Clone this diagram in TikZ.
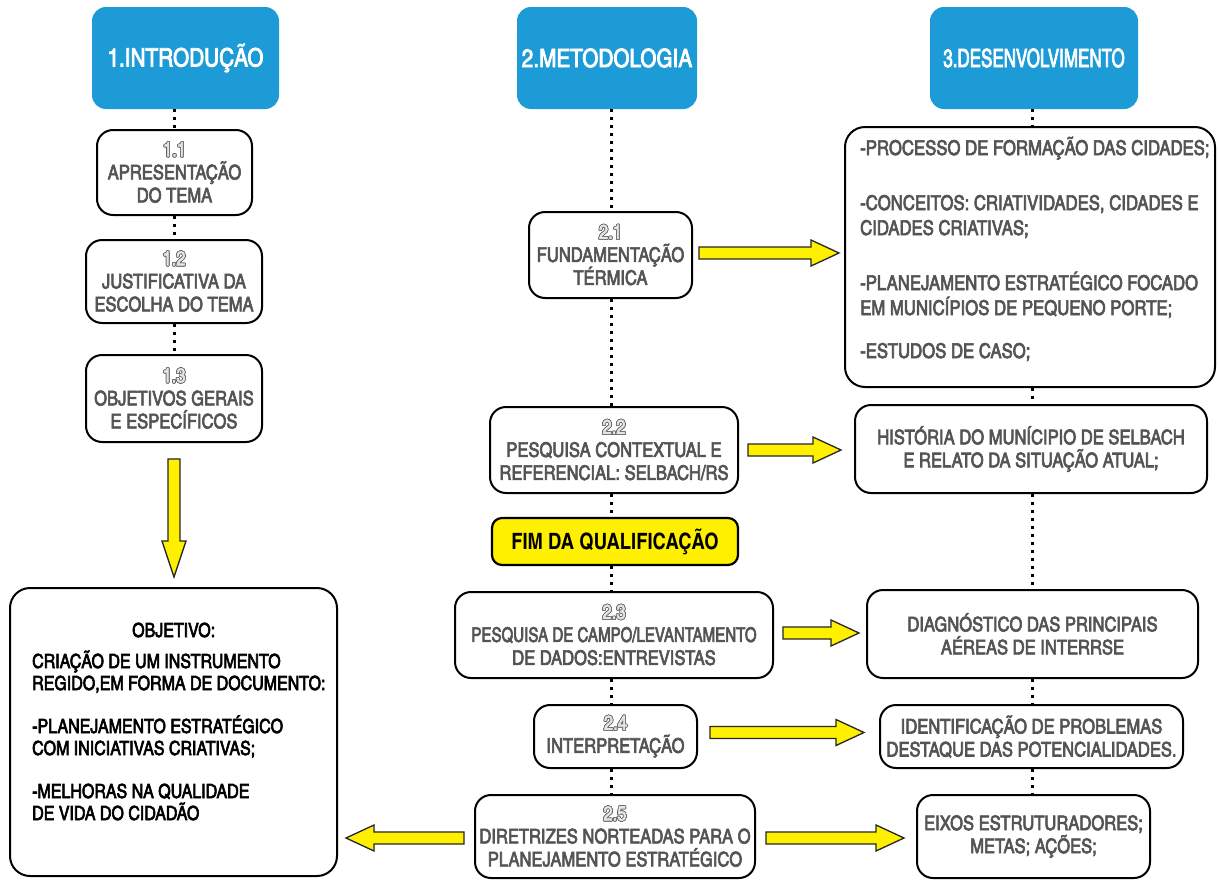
\documentclass[tikz,border=0pt]{standalone}
\usepackage{fontspec}
\setmainfont{texgyreheroscn}[Extension=.otf,UprightFont=*-regular,BoldFont=*-bold,UprightFeatures={FakeBold=3}]
\usepackage{graphicx}
\usepackage{contour}
\contourlength{0.7pt}
\usetikzlibrary{calc}
\definecolor{hblue}{RGB}{29,155,215}
\definecolor{txtgray}{RGB}{84,84,84}
\definecolor{numgray}{RGB}{100,100,100}
\definecolor{yel}{RGB}{255,240,0}
\newcommand\nm[1]{\contour{numgray}{\textcolor{white!90!black}{#1}}}
% horizontal fat arrow: #1 start point, #2 tip point (only x of #2 used)
\newcommand\harrow[2]{%
  \draw[yarrow] let \p1=#1, \p2=#2, \n1={sign(\x2-\x1)} in
    (\x1,{\y1+6pt}) -- ({\x2-\n1*28pt},{\y1+6pt}) -- ({\x2-\n1*28pt},{\y1+13pt})
    -- (\x2,\y1) -- ({\x2-\n1*28pt},{\y1-13pt}) -- ({\x2-\n1*28pt},{\y1-6pt})
    -- (\x1,{\y1-6pt}) -- cycle;}
% vertical fat arrow: #1 start point, #2 tip point (only y of #2 used)
\newcommand\varrow[2]{%
  \draw[yarrow] let \p1=#1, \p2=#2, \n1={sign(\y2-\y1)} in
    ({\x1-6pt},\y1) -- ({\x1-6pt},{\y2-\n1*36pt}) -- ({\x1-12pt},{\y2-\n1*36pt})
    -- (\x1,\y2) -- ({\x1+12pt},{\y2-\n1*36pt}) -- ({\x1+6pt},{\y2-\n1*36pt})
    -- ({\x1+6pt},\y1) -- cycle;}
\tikzset{
  hbox/.style={fill=hblue, rounded corners=14pt, text=white, inner sep=0pt,
    font=\fontsize{25.3}{29}\selectfont},
  gbox/.style={draw=black, line width=2pt, rounded corners=16pt, fill=white,
    text=txtgray, align=center, inner sep=0pt, font=\fontsize{20.2}{23}\selectfont},
  fimbox/.style={draw=black, line width=2.2pt, rounded corners=10pt, fill=yel,
    text=black, inner sep=0pt, font=\fontsize{22.5}{25}\selectfont\bfseries},
  dotline/.style={line width=3pt, dash pattern=on 3pt off 5pt, black},
  yarrow/.style={fill=yel, draw=black!85, line width=1.3pt, line join=miter},
}
\begin{document}
\begin{tikzpicture}[x=1pt,y=-1pt]
\useasboundingbox[fill=white] (0,0) rectangle (1218,881);

% headers
\node[hbox, minimum width=187, minimum height=102] (h1) at (185.5,58) {1.INTRODUÇÃO};
\node[hbox, minimum width=180, minimum height=102] (h2) at (607,58) {2.METODOLOGIA};
\node[hbox, minimum width=208, minimum height=102] (h3) at (1034,58) {\scalebox{0.82}[1]{3.DESENVOLVIMENTO}};

% column 1
\node[gbox, minimum width=155, minimum height=85] (n11) at (174.5,172.5) {\nm{1.1}\\APRESENTAÇÃO\\DO TEMA};
\node[gbox, minimum width=176, minimum height=83] (n12) at (174,281.5) {\nm{1.2}\\JUSTIFICATIVA DA\\ESCOLHA DO TEMA};
\node[gbox, minimum width=176, minimum height=87] (n13) at (174,398.5) {\nm{1.3}\\OBJETIVOS GERAIS\\E ESPECÍFICOS};
\node[gbox, minimum width=327, minimum height=288, rounded corners=20pt] (obj) at (173.5,732) {};
\node[anchor=base west, align=left, inner sep=0pt, text=black,
  font=\fontsize{19.5}{22}\selectfont] (objtxt) at (32,820)
  {\hspace*{100pt}OBJETIVO:\\[9pt]
   CRIAÇÃO DE UM INSTRUMENTO\\
   REGIDO,EM FORMA DE DOCUMENTO:\\[21pt]
   -PLANEJAMENTO ESTRATÉGICO\\
   COM INICIATIVAS CRIATIVAS;\\[21pt]
   -MELHORAS NA QUALIDADE\\
   DE VIDA DO CIDADÃO};

% column 2
\node[gbox, minimum width=163, minimum height=86] (n21) at (610.5,255) {\nm{2.1}\\FUNDAMENTAÇÃO\\TÉRMICA};
\node[gbox, minimum width=248, minimum height=86] (n22) at (614,450) {\nm{2.2}\\PESQUISA CONTEXTUAL E\\REFERENCIAL: SELBACH/RS};
\node[fimbox, minimum width=246, minimum height=47] (fim) at (615,541.5) {FIM DA QUALIFICAÇÃO};
\node[gbox, minimum width=318, minimum height=86] (n23) at (614,635) {\nm{2.3}\\\scalebox{0.91}[1]{PESQUISA DE CAMPO/LEVANTAMENTO}\\DE DADOS:ENTREVISTAS};
\node[gbox, minimum width=163, minimum height=63] (n24) at (615.5,736.5) {\nm{2.4}\\INTERPRETAÇÃO};
\node[gbox, minimum width=280, minimum height=83] (n25) at (615,836.5) {\nm{2.5}\\DIRETRIZES NORTEADAS PARA O\\PLANEJAMENTO ESTRATÉGICO};

% column 3
\node[gbox, minimum width=370, minimum height=260, rounded corners=20pt] (r1) at (1030,257) {};
\node[anchor=base west, align=left, inner sep=0pt, text=txtgray,
  font=\fontsize{20.4}{25}\selectfont] (r1txt) at (860,358)
  {-PROCESSO DE FORMAÇÃO DAS CIDADES;\\[30pt]
   -CONCEITOS: CRIATIVIDADES, CIDADES E\\
   CIDADES CRIATIVAS;\\[30pt]
   -PLANEJAMENTO ESTRATÉGICO FOCADO\\
   EM MUNICÍPIOS DE PEQUENO PORTE;\\[18pt]
   -ESTUDOS DE CASO;};
\node[gbox, minimum width=352, minimum height=88] (r2) at (1031,449) {HISTÓRIA DO MUNÍCIPIO DE SELBACH\\E RELATO DA SITUAÇÃO ATUAL;};
\node[gbox, minimum width=331, minimum height=88] (r3) at (1032.5,634) {DIAGNÓSTICO DAS PRINCIPAIS\\AÉREAS DE INTERRSE};
\node[gbox, minimum width=303, minimum height=63] (r4) at (1031.5,736.5) {IDENTIFICAÇÃO DE PROBLEMAS\\DESTAQUE DAS POTENCIALIDADES.};
\node[gbox, minimum width=233, minimum height=83] (r5) at (1033.5,836.5) {EIXOS ESTRUTURADORES;\\METAS; AÇÕES;};

% dotted connectors
\coordinate (lc) at (174,0);
\coordinate (mc) at (611,0);
\coordinate (rc) at (1032,0);
\draw[dotline] (lc |- h1.south) -- (lc |- n11.north);
\draw[dotline] (lc |- n11.south) -- (lc |- n12.north);
\draw[dotline] (lc |- n12.south) -- (lc |- n13.north);
\draw[dotline] (mc |- h2.south) -- (mc |- n21.north);
\draw[dotline] (mc |- n21.south) -- (mc |- n22.north);
\draw[dotline] (mc |- n22.south) -- (mc |- fim.north);
\draw[dotline] (mc |- fim.south) -- (mc |- n23.north);
\draw[dotline] (mc |- n23.south) -- (mc |- n24.north);
\draw[dotline] (mc |- n24.south) -- (mc |- n25.north);
\draw[dotline] (rc |- h3.south) -- (rc |- r1.north);
\draw[dotline] (rc |- r1.south) -- (rc |- r2.north);
\draw[dotline] (rc |- r2.south) -- (rc |- r3.north);
\draw[dotline] (rc |- r3.south) -- (rc |- r4.north);
\draw[dotline] (rc |- r4.south) -- (rc |- r5.north);

% yellow arrows
\varrow{($(n13.south)+(0,16)$)}{($(obj.north)+(0,-10)$)}
\harrow{($(n21.east)+(6,-2)$)}{($(r1.west)+(-5,0)$)}
\harrow{($(n22.east)+(9,0)$)}{($(r2.west)+(-13,0)$)}
\harrow{($(n23.east)+(9,-2)$)}{($(r3.west)+(-7,0)$)}
\harrow{($(n24.east)+(12,-4)$)}{($(r4.west)+(-15,0)$)}
\harrow{($(n25.east)+(10,1.5)$)}{($(r5.west)+(-12,0)$)}
\harrow{($(n25.west)+(-10,1.5)$)}{($(obj.east)+(8,0)$)}
\end{tikzpicture}
\end{document}
